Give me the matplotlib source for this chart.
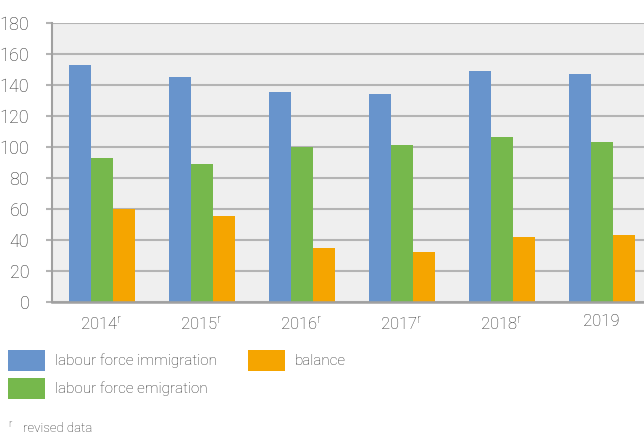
import matplotlib
matplotlib.use("Agg")
import matplotlib.pyplot as plt
from matplotlib.patches import Rectangle
import numpy as np

plt.rcParams['font.family'] = ['Roboto', 'DejaVu Sans']
plt.rcParams['font.weight'] = 'light'
plt.rcParams['mathtext.default'] = 'regular'

years = ["2014", "2015", "2016", "2017", "2018", "2019"]
revised = [True, True, True, True, True, False]
immigration = [153, 145, 135.5, 134, 149, 147]
emigration = [93, 89, 100, 101, 106.5, 103]
balance = [60, 55.5, 35, 32.5, 42, 43.5]

series_names = ["labour force immigration", "labour force emigration", "balance"]
colors = ["#6894cc", "#76b84c", "#f5a500"]
text_color = "#2e2e2e"
grid_color = "#b4b4b4"

W, H = 644, 437
fig = plt.figure(figsize=(W / 100, H / 100), dpi=100)

def fx(x):
    return x / W

def fy(y):
    return 1 - y / H

# plot area: left 51.5px, top 23px, bottom 302px, 100px per category
left, top, bottom = 51.5, 23, 302
width = 600
ax = fig.add_axes([fx(left), fy(bottom), width / W, (bottom - top) / H])
ax.set_facecolor("#efefef")

x = np.arange(len(years))
bw = 0.22
for i, (vals, c) in enumerate(zip([immigration, emigration, balance], colors)):
    ax.bar(x + (i - 1) * bw, vals, width=bw, color=c, zorder=3, linewidth=0)

ax.set_xlim(-0.5, len(years) - 0.5)
ax.set_ylim(0, 180)
ax.set_yticks(range(0, 181, 20))
ax.yaxis.grid(True, color=grid_color, linewidth=1.5, zorder=1)
ax.set_axisbelow(True)

for s in ["top", "right"]:
    ax.spines[s].set_visible(False)
ax.spines["left"].set_color("#a0a0a0")
ax.spines["left"].set_linewidth(1.5)
ax.spines["bottom"].set_color("#a0a0a0")
ax.spines["bottom"].set_linewidth(1.8)
ax.spines["bottom"].set_zorder(4)

ax.tick_params(axis="y", length=4, width=1.5, color=grid_color, pad=12,
               labelsize=13, labelcolor=text_color)
ax.tick_params(axis="x", length=0, pad=9, labelsize=12, labelcolor=text_color)
ax.set_xticks(x)
ax.set_xticklabels([y + (r"$^{r}$" if r else "") for y, r in zip(years, revised)])

# legend drawn in figure pixel coordinates
legend_items = [
    (8, 350, series_names[0], colors[0]),
    (8, 378, series_names[1], colors[1]),
    (248, 350, series_names[2], colors[2]),
]
for px, py, label, c in legend_items:
    fig.patches.append(Rectangle((fx(px), fy(py + 21)), 37 / W, 21 / H,
                                 transform=fig.transFigure, color=c, linewidth=0))
    fig.text(fx(px + 47), fy(py + 11), label, fontsize=11, color=text_color,
             va="center", ha="left")

fig.text(fx(8), fy(424), "r", fontsize=7, color=text_color, va="center", ha="left")
fig.text(fx(23), fy(428), "revised data", fontsize=9.5, color=text_color,
         va="center", ha="left")

fig.savefig("out.png", dpi=100)
